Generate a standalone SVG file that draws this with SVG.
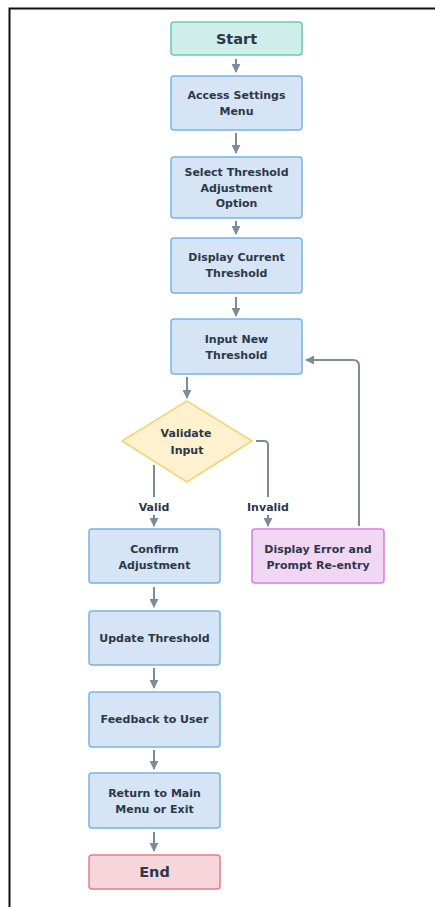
<svg xmlns="http://www.w3.org/2000/svg" width="435" height="907" viewBox="0 0 435 907">
<defs>
<style>
.t{font-family:"DejaVu Sans","Liberation Sans",sans-serif;font-weight:700;font-size:11px;fill:#2d3748;text-anchor:middle;dominant-baseline:central}
.big{font-size:14.5px}
.proc{fill:#d5e5f5;stroke:#7ab3e5;stroke-width:1.5}
.c{fill:none;stroke:#7d8b99;stroke-width:2}
</style>
<marker id="ah" viewBox="0 0 10 10" refX="9" refY="5" markerWidth="4.5" markerHeight="4.5" orient="auto">
<path d="M0,0 L10,5 L0,10 z" fill="#7d8b99"/>
</marker>
</defs>
<rect width="435" height="907" fill="#ffffff"/>
<path d="M9.5,907 V8.5 H435" fill="none" stroke="#111" stroke-width="2"/>
<g id="connectors">
<line class="c" x1="236" y1="59" x2="236" y2="72" marker-end="url(#ah)"/>
<line class="c" x1="236" y1="133" x2="236" y2="153" marker-end="url(#ah)"/>
<line class="c" x1="236" y1="221" x2="236" y2="234" marker-end="url(#ah)"/>
<line class="c" x1="236" y1="297" x2="236" y2="316" marker-end="url(#ah)"/>
<line class="c" x1="187" y1="377" x2="187" y2="398" marker-end="url(#ah)"/>
<line class="c" x1="154" y1="465" x2="154" y2="497"/>
<line class="c" x1="154" y1="515" x2="154" y2="526" marker-end="url(#ah)"/>
<path class="c" d="M256,441 H264 Q268,441 268,445 V497"/>
<line class="c" x1="268" y1="515" x2="268" y2="526" marker-end="url(#ah)"/>
<path class="c" d="M359,526 V366 Q359,360 353,360 H306" marker-end="url(#ah)"/>
<line class="c" x1="154" y1="587" x2="154" y2="607" marker-end="url(#ah)"/>
<line class="c" x1="154" y1="668" x2="154" y2="688" marker-end="url(#ah)"/>
<line class="c" x1="154" y1="750" x2="154" y2="769" marker-end="url(#ah)"/>
<line class="c" x1="154" y1="832" x2="154" y2="851" marker-end="url(#ah)"/>
<text class="t" x="154" y="507">Valid</text>
<text class="t" x="268" y="507">Invalid</text>
</g>
<g id="start">
<rect x="171" y="22" width="131" height="33" rx="3" fill="#cfeee9" stroke="#63cbb3" stroke-width="1.5"/>
<text class="t big" x="236.5" y="38.5">Start</text>
</g>
<g id="access">
<rect class="proc" x="171" y="76" width="131" height="54" rx="3"/>
<text class="t" x="236.5" y="95">Access Settings</text>
<text class="t" x="236.5" y="111">Menu</text>
</g>
<g id="select">
<rect class="proc" x="171" y="157" width="131" height="61" rx="3"/>
<text class="t" x="236.5" y="172">Select Threshold</text>
<text class="t" x="236.5" y="188">Adjustment</text>
<text class="t" x="236.5" y="203">Option</text>
</g>
<g id="display">
<rect class="proc" x="171" y="238" width="131" height="55" rx="3"/>
<text class="t" x="236.5" y="257">Display Current</text>
<text class="t" x="236.5" y="273">Threshold</text>
</g>
<g id="input">
<rect class="proc" x="171" y="319" width="131" height="55" rx="3"/>
<text class="t" x="236.5" y="339">Input New</text>
<text class="t" x="236.5" y="355">Threshold</text>
</g>
<g id="validate">
<polygon points="187,401 252,441 187,482 122,441" fill="#fdf1cf" stroke="#f2d577" stroke-width="1.5" stroke-linejoin="round"/>
<text class="t" x="186" y="433">Validate</text>
<text class="t" x="187" y="450">Input</text>
</g>
<g id="confirm">
<rect class="proc" x="89" y="529" width="131" height="54" rx="3"/>
<text class="t" x="154.5" y="549">Confirm</text>
<text class="t" x="154.5" y="565">Adjustment</text>
</g>
<g id="error">
<rect x="252" y="529" width="132" height="54" rx="3" fill="#f2d7f4" stroke="#d97ee0" stroke-width="1.5"/>
<text class="t" x="318" y="549">Display Error and</text>
<text class="t" x="318" y="565">Prompt Re-entry</text>
</g>
<g id="update">
<rect class="proc" x="89" y="611" width="131" height="54" rx="3"/>
<text class="t" x="154.5" y="638">Update Threshold</text>
</g>
<g id="feedback">
<rect class="proc" x="89" y="692" width="131" height="55" rx="3"/>
<text class="t" x="154.5" y="719">Feedback to User</text>
</g>
<g id="return">
<rect class="proc" x="89" y="773" width="131" height="55" rx="3"/>
<text class="t" x="154.5" y="793">Return to Main</text>
<text class="t" x="154.5" y="809">Menu or Exit</text>
</g>
<g id="end">
<rect x="89" y="855" width="131" height="34" rx="3" fill="#f6d6da" stroke="#e27f8a" stroke-width="1.5"/>
<text class="t big" x="154.5" y="872">End</text>
</g>
</svg>
